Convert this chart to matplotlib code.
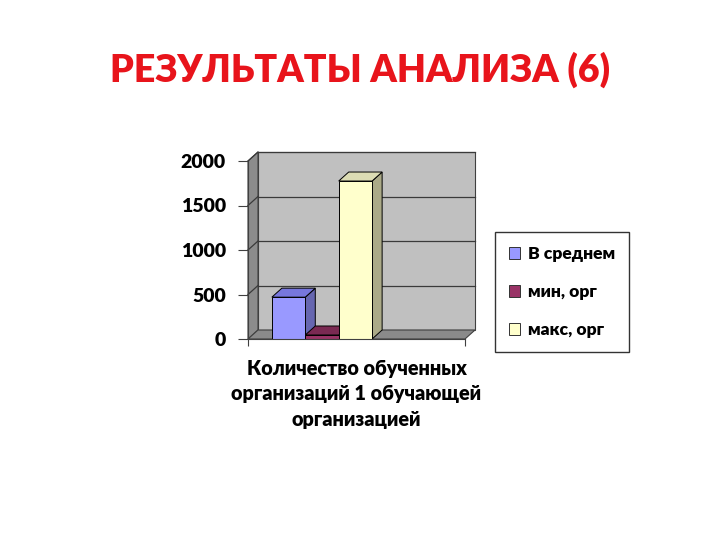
import matplotlib
matplotlib.use("Agg")
import matplotlib.pyplot as plt
from matplotlib.patches import Polygon, Patch

title = "РЕЗУЛЬТАТЫ АНАЛИЗА (6)"
category = "Количество обученных\nорганизаций 1 обучающей\nорганизацией"
series_names = ["В среднем", "мин, орг", "макс, орг"]
series_values = [470, 45, 1775]
yticks = [0, 500, 1000, 1500, 2000]

front_colors = ["#9999FF", "#993366", "#FFFFCC"]
top_colors = ["#7777DD", "#7A2952", "#DCDCB4"]
side_colors = ["#6666B0", "#6A2346", "#ABAA88"]

FONT = ["Lato", "DejaVu Sans"]
WT = "heavy"
plt.rcParams["font.family"] = FONT

W, H = 720, 540
fig = plt.figure(figsize=(W / 100, H / 100), dpi=100)
fig.patch.set_facecolor("white")

ax_l, ax_r, ax_b, ax_t = 248, 465, 339, 161
ax = fig.add_axes([ax_l / W, 1 - ax_b / H, (ax_r - ax_l) / W, (ax_b - ax_t) / H])
ax.patch.set_visible(False)

xmin, xmax = -0.341, 0.659
ymin, ymax = 0, 2000
ax.set_xlim(xmin, xmax)
ax.set_ylim(ymin, ymax)

ddx = 10 * (xmax - xmin) / (ax_r - ax_l)
ddy = 9 * (ymax - ymin) / (ax_b - ax_t)

edge = "#404040"
ax.add_patch(Polygon([(xmin + ddx, ddy), (xmax + ddx, ddy), (xmax + ddx, ymax + ddy), (xmin + ddx, ymax + ddy)],
                     closed=True, facecolor="#C0C0C0", edgecolor=edge, lw=0.8, clip_on=False, zorder=0))
ax.add_patch(Polygon([(xmin, 0), (xmin + ddx, ddy), (xmin + ddx, ymax + ddy), (xmin, ymax)],
                     closed=True, facecolor="#8C8C8C", edgecolor=edge, lw=0.8, clip_on=False, zorder=0))
ax.add_patch(Polygon([(xmin, 0), (xmax, 0), (xmax + ddx, ddy), (xmin + ddx, ddy)],
                     closed=True, facecolor="#8A8A8A", edgecolor=edge, lw=0.8, clip_on=False, zorder=0.5))
for v in yticks[1:]:
    ax.plot([xmin + ddx, xmax + ddx], [v + ddy, v + ddy], color="#3A3A3A", lw=0.9, clip_on=False, zorder=0.3)
    ax.plot([xmin, xmin + ddx], [v, v + ddy], color="#3A3A3A", lw=0.9, clip_on=False, zorder=0.3)

bw = 0.154
offsets = [-bw, 0.0, bw]
z = 1
for name, val, off, fc, tc, sc in zip(series_names, series_values, offsets, front_colors, top_colors, side_colors):
    x0 = off - bw / 2
    x1 = off + bw / 2
    ax.add_patch(Polygon([(x1, 0), (x1 + ddx, ddy), (x1 + ddx, val + ddy), (x1, val)], closed=True,
                         facecolor=sc, edgecolor="black", lw=0.7, clip_on=False, zorder=z))
    ax.add_patch(Polygon([(x0, val), (x1, val), (x1 + ddx, val + ddy), (x0 + ddx, val + ddy)], closed=True,
                         facecolor=tc, edgecolor="black", lw=0.7, clip_on=False, zorder=z))
    ax.bar([off], [val], width=bw, color=fc, edgecolor="black", lw=0.7, zorder=z + 0.5, clip_on=False)
    z += 1

for s in ["top", "right"]:
    ax.spines[s].set_visible(False)
ax.spines["left"].set_color("#404040")
ax.spines["bottom"].set_color("#404040")
ax.spines["left"].set_zorder(10)
ax.spines["bottom"].set_zorder(10)
ax.set_yticks(yticks)
ax.set_yticklabels([str(v) for v in yticks], fontsize=14, fontweight=WT)
ax.tick_params(axis="y", length=7, width=0.8, color="#404040", pad=9)
ax.set_xticks([xmin, xmax])
ax.set_xticklabels(["", ""])
ax.tick_params(axis="x", length=5, width=0.8, color="#404040")

ax.text(0.5, -0.11, category, transform=ax.transAxes, ha="center", va="top",
        fontsize=14.2, fontweight=WT, linespacing=1.42)

handles = [Patch(facecolor=c, edgecolor="#333333", lw=0.7) for c in front_colors]
leg = fig.legend(handles, series_names, loc="center left", bbox_to_anchor=(495 / W, 1 - 292 / H),
                 frameon=True, fancybox=False, edgecolor="black", prop={"family": FONT, "weight": WT, "size": 12.6},
                 handlelength=0.65, handleheight=0.65, handletextpad=0.45, labelspacing=1.25,
                 borderpad=0.8, borderaxespad=0)
leg.get_frame().set_linewidth(1.0)

fig.text(0.5, 1 - 70 / H, title, ha="center", va="center", color="#E8141B",
         fontsize=27, fontweight=WT, family=FONT)

fig.savefig("out.png", dpi=100)
